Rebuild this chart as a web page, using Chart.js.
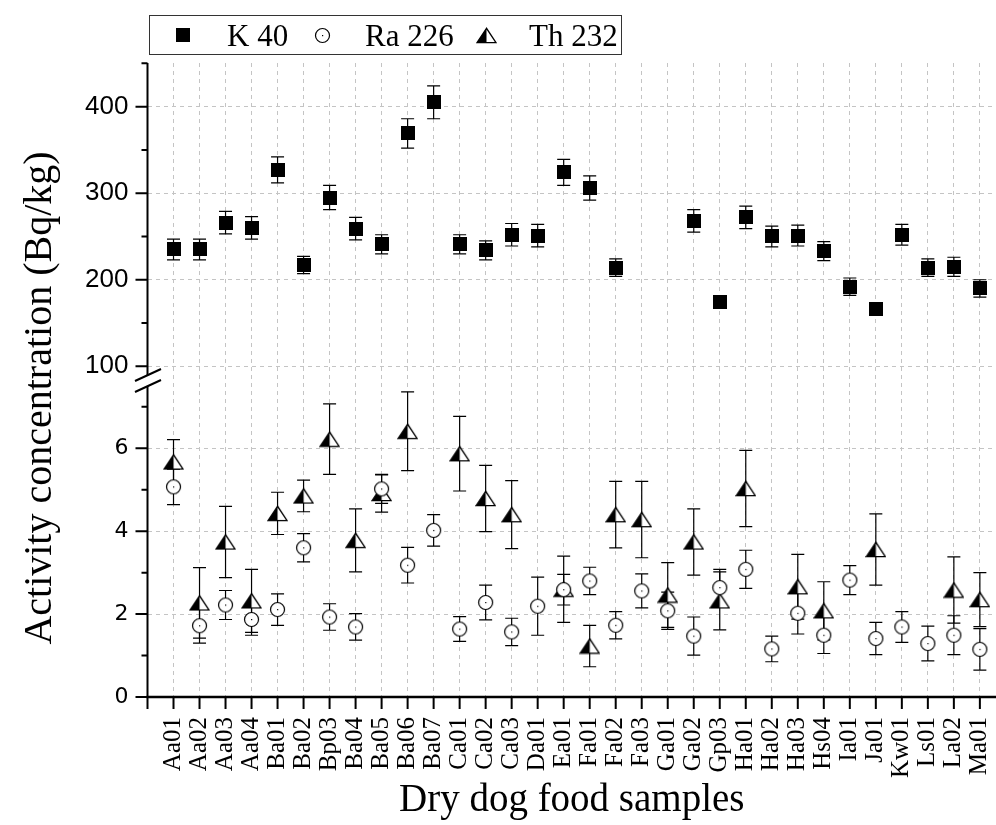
<!DOCTYPE html>
<html><head><meta charset="utf-8">
<script src="https://cdn.jsdelivr.net/npm/chart.js@4"></script>
<style>
html,body{margin:0;padding:0;background:#fff;}
#wrap{position:relative;width:996px;height:825px;overflow:hidden;background:#fff;}
#c{position:absolute;left:0;top:0;}
.serif{font-family:"Liberation Serif","Times New Roman",serif;color:#000;position:absolute;white-space:nowrap;}
#legendBox{position:absolute;left:149px;top:15px;width:473px;height:40px;border:1.5px solid #333;box-sizing:border-box;}
.lt{font-size:31px;line-height:31px;top:20px;}
.sym{position:absolute;}
#ytitle{font-size:40px;line-height:50px;width:620px;height:50px;text-align:center;left:-272px;top:373px;transform:rotate(-90deg);}
</style>
</head><body>
<div id="wrap">
<canvas id="c" width="996" height="825"></canvas>
<div id="legendBox"></div>
<span class="serif lt" style="left:227px">K 40</span>
<span class="serif lt" style="left:365px">Ra 226</span>
<span class="serif lt" style="left:529px">Th 232</span>
<div id="ytitle" class="serif">Activity concentration (Bq/kg)</div>
</div>
<script>
const categories = ["Aa01","Aa02","Aa03","Aa04","Ba01","Ba02","Bp03","Ba04","Ba05","Ba06","Ba07","Ca01","Ca02","Ca03","Da01","Ea01","Fa01","Fa02","Fa03","Ga01","Ga02","Gp03","Ha01","Ha02","Ha03","Hs04","Ia01","Ja01","Kw01","Ls01","La02","Ma01"];
const k40 = [235,235,266,260,327,217,295,259,241,369,405,241,234,252,251,324,306,214,null,null,268,174,272,250,251,233,192,166,252,214,215,190];
const k40Err = [12,12,13,13,15,10,14,13,11,17,19,11,11,13,13,15,14,10,null,null,13,7,13,12,12,11,10,7,12,10,11,10];
const ra226 = [5.07,1.72,2.22,1.87,2.11,3.60,1.93,1.69,5.02,3.18,4.02,1.64,2.28,1.57,2.19,2.59,2.80,1.73,2.56,2.08,1.47,2.64,3.08,1.16,2.02,1.49,2.82,1.41,1.69,1.29,1.49,1.15];
const ra226Err = [0.43,0.42,0.35,0.38,0.38,0.34,0.32,0.32,0.35,0.43,0.38,0.30,0.42,0.33,0.70,0.37,0.33,0.33,0.41,0.45,0.46,0.44,0.46,0.31,0.50,0.44,0.35,0.39,0.37,0.42,0.47,0.50];
const th232 = [5.67,2.27,3.74,2.32,4.43,4.85,6.22,3.78,4.91,6.41,null,5.87,4.79,4.40,null,2.60,1.23,4.40,4.28,2.46,3.74,2.32,5.03,null,2.66,2.08,null,3.56,null,null,2.58,2.35];
const th232Err = [0.54,0.85,0.86,0.76,0.51,0.38,0.85,0.76,0.45,0.95,null,0.90,0.80,0.82,null,0.80,0.50,0.80,0.92,0.78,0.80,0.70,0.92,null,0.78,0.70,null,0.86,null,null,0.80,0.65];
const upperTicks = [100,200,300,400];
const upperMinor = [150,250,350,450];
const lowerTicks = [0,2,4,6];
const lowerMinor = [1,3,5,7];

function mkCanvas(w,h){const c=document.createElement('canvas');c.width=w;c.height=h;return c;}
function squareImg(){const c=mkCanvas(14,14);const g=c.getContext('2d');g.fillStyle='#000';g.fillRect(0,0,14,14);return c;}
function circleImg(){const c=mkCanvas(17,17);const g=c.getContext('2d');g.beginPath();g.arc(8.5,8.5,7,0,Math.PI*2);g.fillStyle='#fff';g.fill();g.lineWidth=1.2;g.strokeStyle='#000';g.stroke();g.fillStyle='#000';g.fillRect(8,8,1.2,1.2);return c;}
function triImg(){const c=mkCanvas(21,17);const g=c.getContext('2d');
  g.beginPath();g.moveTo(10.5,1.3);g.lineTo(1,15.7);g.lineTo(20,15.7);g.closePath();g.fillStyle='#fff';g.fill();
  g.beginPath();g.moveTo(10.5,1.3);g.lineTo(1,15.7);g.lineTo(10.5,15.7);g.closePath();g.fillStyle='#000';g.fill();
  g.beginPath();g.moveTo(10.5,1.3);g.lineTo(1,15.7);g.lineTo(20,15.7);g.closePath();g.lineWidth=1.3;g.strokeStyle='#000';g.stroke();
  return c;}
const SQ=squareImg(), CI=circleImg(), TR=triImg();

function placeSym(img,cx,cy){const c=mkCanvas(img.width,img.height);c.getContext('2d').drawImage(img,0,0);c.className='sym';c.style.left=(cx-img.width/2)+'px';c.style.top=(cy-img.height/2)+'px';document.getElementById('wrap').appendChild(c);}
placeSym(SQ,183,35);placeSym(CI,322,35);placeSym(TR,486,35);

function pts(vals){return categories.map((c,i)=>({x:i,y:vals[i]}));}

const SERIF='"Liberation Serif","Times New Roman",serif';

const errSets=[{v:k40,e:k40Err,ax:'yK'},{v:ra226,e:ra226Err,ax:'yR'},{v:th232,e:th232Err,ax:'yR'}];

const deco={
  id:'deco',
  beforeDatasetsDraw(chart){
    const ctx=chart.ctx, xs=chart.scales.x;
    ctx.save();ctx.strokeStyle='#000';ctx.lineWidth=1.2;
    errSets.forEach(s=>{const ys=chart.scales[s.ax];
      s.v.forEach((v,i)=>{ if(v==null||s.e[i]==null) return;
        const x=xs.getPixelForValue(i), yt=ys.getPixelForValue(v+s.e[i]), yb=ys.getPixelForValue(v-s.e[i]);
        ctx.beginPath();ctx.moveTo(x,yt);ctx.lineTo(x,yb);
        ctx.moveTo(x-6.5,yt);ctx.lineTo(x+6.5,yt);
        ctx.moveTo(x-6.5,yb);ctx.lineTo(x+6.5,yb);ctx.stroke();
      });
    });
    ctx.restore();
  },
  afterDraw(chart){
    const ctx=chart.ctx, xs=chart.scales.x, yK=chart.scales.yK, yR=chart.scales.yR, ca=chart.chartArea;
    const ax=ca.left;
    ctx.save();ctx.strokeStyle='#000';ctx.lineCap='butt';
    const bnd=yK.bottom;
    const bt=bnd-5.3, bb=bnd+5.7;
    ctx.lineWidth=2;
    ctx.beginPath();ctx.moveTo(ax,ca.top);ctx.lineTo(ax,bt);ctx.moveTo(ax,bb);ctx.lineTo(ax,ca.bottom);ctx.stroke();
    ctx.beginPath();ctx.moveTo(ax-12.5,bt+5.8);ctx.lineTo(ax+13.5,bt-6.2);ctx.moveTo(ax-12.5,bb+5.8);ctx.lineTo(ax+13.5,bb-6.2);ctx.stroke();
    ctx.beginPath();
    upperTicks.forEach(v=>{const y=yK.getPixelForValue(v);ctx.moveTo(ax,y);ctx.lineTo(ax-12,y);});
    upperMinor.forEach(v=>{const y=yK.getPixelForValue(v);ctx.moveTo(ax,y);ctx.lineTo(ax-6,y);});
    lowerTicks.forEach(v=>{const y=yR.getPixelForValue(v);ctx.moveTo(ax,y);ctx.lineTo(ax-12,y);});
    lowerMinor.forEach(v=>{const y=yR.getPixelForValue(v);ctx.moveTo(ax,y);ctx.lineTo(ax-6,y);});
    ctx.stroke();
    ctx.lineWidth=2.5;
    ctx.beginPath();ctx.moveTo(ax-1,ca.bottom);ctx.lineTo(ca.right,ca.bottom);ctx.stroke();
    ctx.lineWidth=2;ctx.beginPath();
    for(let i=-1;i<categories.length;i++){const x=xs.getPixelForValue(i);ctx.moveTo(x,ca.bottom);ctx.lineTo(x,ca.bottom+12);}
    ctx.stroke();
    ctx.restore();
  }
};

const grid={color:'#c4c4c4',lineWidth:1,drawTicks:false};
const border={display:false,dash:[4,4]};

new Chart(document.getElementById('c'),{
  type:'scatter',
  data:{datasets:[
    {label:'K 40',data:pts(k40),yAxisID:'yK',pointStyle:SQ,pointRadius:7,pointHoverRadius:7},
    {label:'Ra 226',data:pts(ra226),yAxisID:'yR',pointStyle:CI,pointRadius:7,pointHoverRadius:7},
    {label:'Th 232',data:pts(th232),yAxisID:'yR',pointStyle:TR,pointRadius:8,pointHoverRadius:8}
  ]},
  options:{
    responsive:false,animation:false,devicePixelRatio:1,
    layout:{autoPadding:false,padding:{top:63,left:0,right:0,bottom:0}},
    plugins:{legend:{display:false},tooltip:{enabled:false}},
    scales:{
      x:{type:'linear',min:-1,max:31.62,
        afterBuildTicks:s=>{s.ticks=categories.map((c,i)=>({value:i}));},
        afterFit:s=>{s.height=128;s.paddingRight=0;s.paddingLeft=0;},
        grid:grid,border:border,
        ticks:{autoSkip:false,minRotation:90,maxRotation:90,padding:20,color:'#000',
          font:{family:SERIF,size:25},callback:v=>categories[v]??''},
        title:{display:true,text:'Dry dog food samples',color:'#000',font:{family:SERIF,size:39},padding:{top:0,bottom:1}}
      },
      yR:{type:'linear',position:'left',stack:'y',stackWeight:316.5,min:0,max:7.636,
        afterBuildTicks:s=>{s.ticks=lowerTicks.map(v=>({value:v}));},
        afterFit:s=>{s.width=147.5;s.paddingTop=0;s.paddingBottom=0;},
        grid:grid,border:border,
        ticks:{padding:19,color:'#000',font:{family:'"DejaVu Sans",sans-serif',size:22}}
      },
      yK:{type:'linear',position:'left',stack:'y',stackWeight:317.5,min:83.6,max:450.4,
        afterBuildTicks:s=>{s.ticks=upperTicks.map(v=>({value:v}));},
        afterFit:s=>{s.width=147.5;s.paddingTop=0;s.paddingBottom=0;},
        grid:grid,border:border,
        ticks:{padding:19,color:'#000',font:{family:'"Liberation Sans",Arial,sans-serif',size:26}}
      }
    }
  },
  plugins:[deco]
});
</script>
</body></html>
